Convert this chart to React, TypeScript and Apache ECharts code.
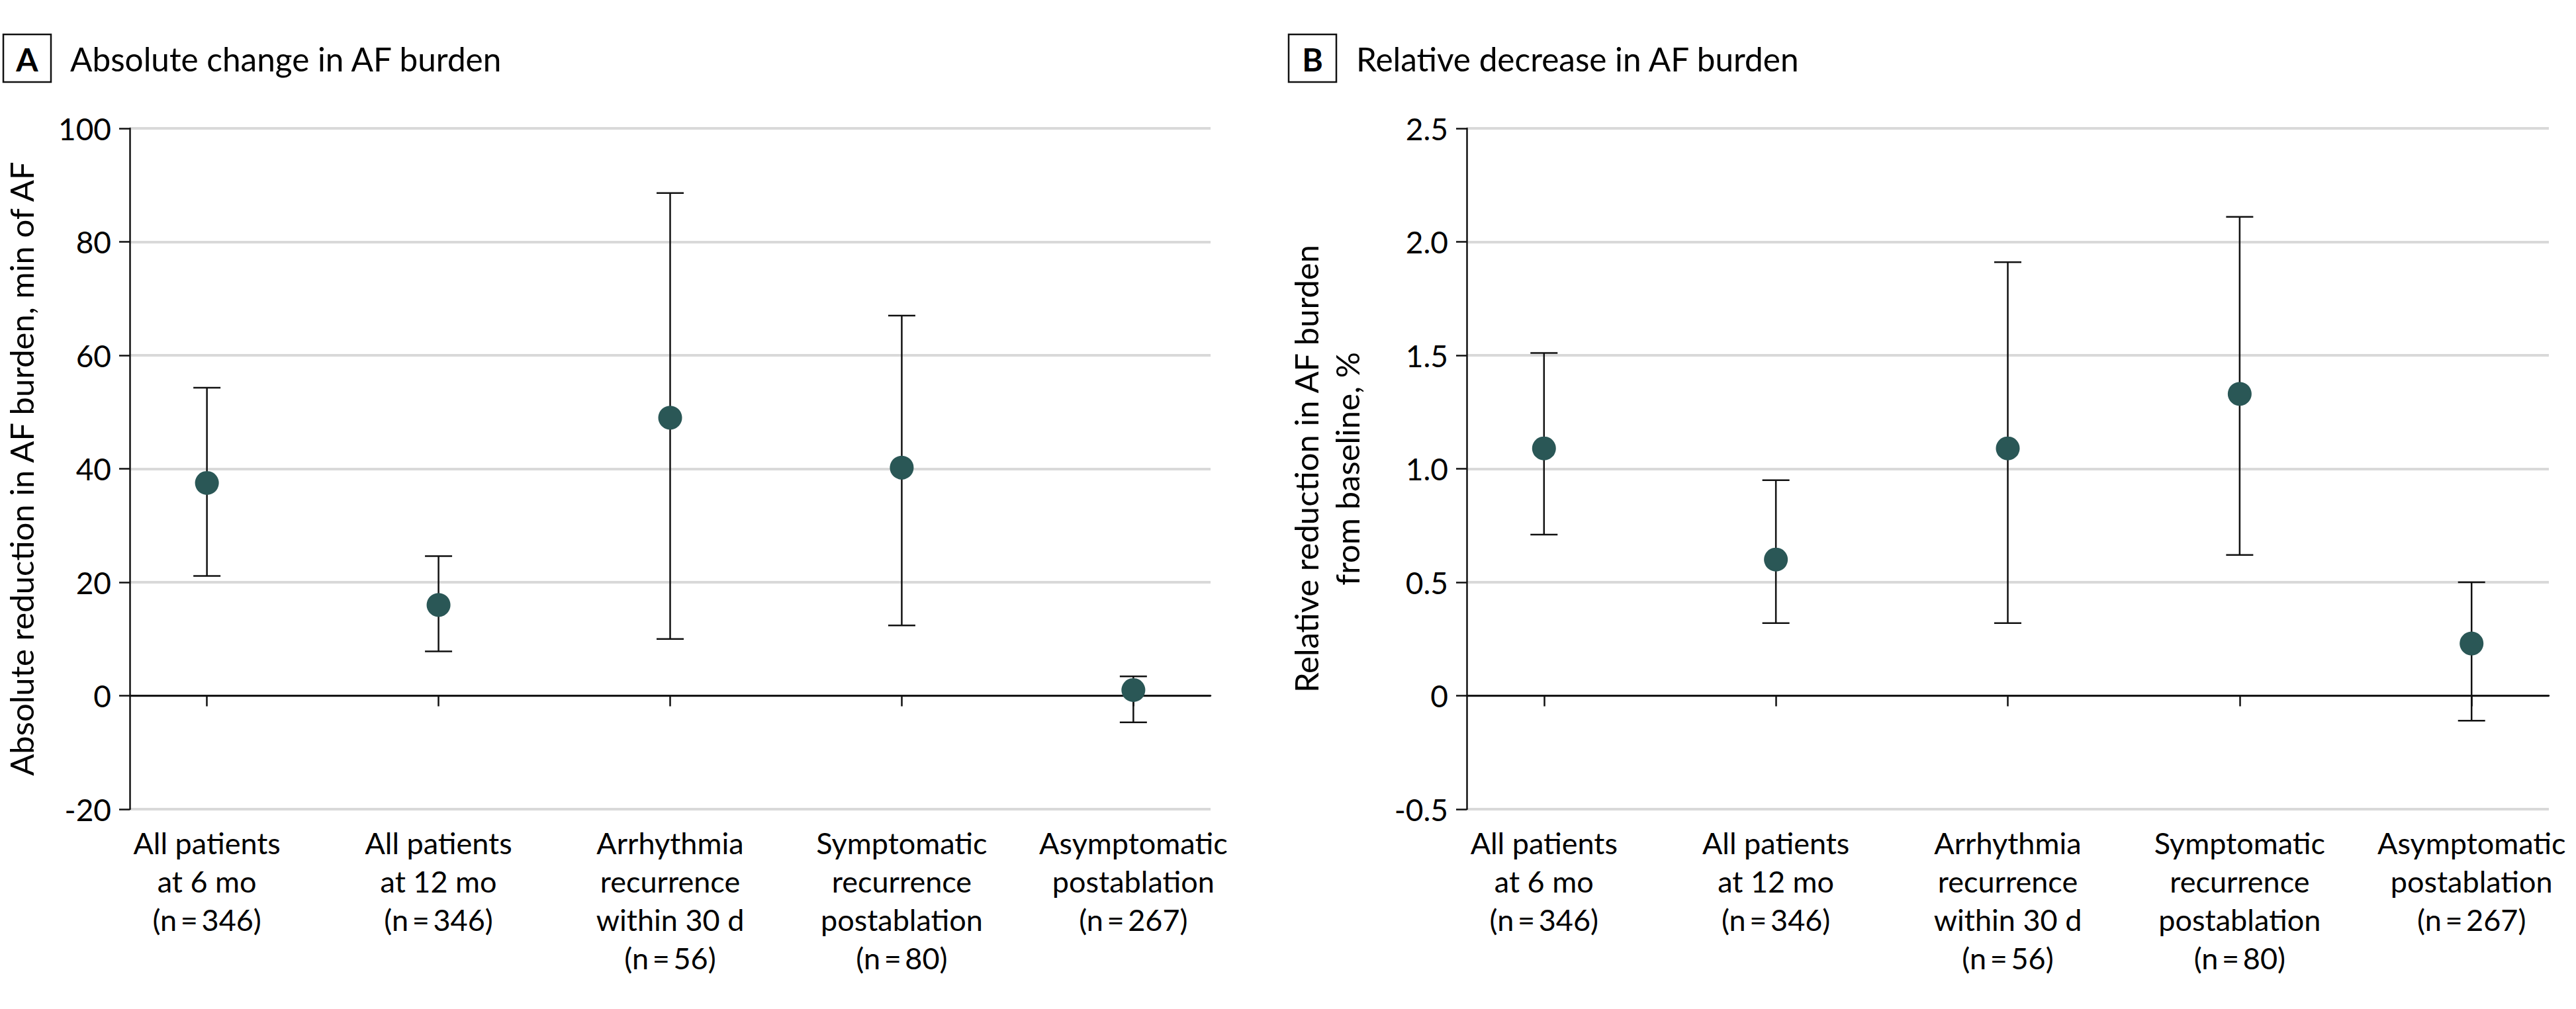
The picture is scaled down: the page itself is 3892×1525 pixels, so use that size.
import React, { useEffect, useRef } from "react";
import * as echarts from "echarts";

const categories = [
  "All patients\nat 6 mo\n(n\u2009=\u2009346)",
  "All patients\nat 12 mo\n(n\u2009=\u2009346)",
  "Arrhythmia\nrecurrence\nwithin 30 d\n(n\u2009=\u200956)",
  "Symptomatic\nrecurrence\npostablation\n(n\u2009=\u200980)",
  "Asymptomatic\npostablation\n(n\u2009=\u2009267)",
];
const catX = [1, 2, 3, 4, 5];

const absEst = [37.5, 16.0, 49.0, 40.2, 1.0];
const absLow = [21.1, 7.8, 10.0, 12.4, -4.7];
const absHigh = [54.3, 24.6, 88.6, 67.0, 3.4];

const relEst = [1.09, 0.6, 1.09, 1.33, 0.23];
const relLow = [0.71, 0.32, 0.32, 0.62, -0.11];
const relHigh = [1.51, 0.95, 1.91, 2.11, 0.5];

const titleA = "Absolute change in AF burden";
const titleB = "Relative decrease in AF burden";
const yNameA = "Absolute reduction in AF burden, min of AF";
const yNameB = "Relative reduction in AF burden\nfrom baseline, %";

const FONT = "Lato, 'Noto Sans', sans-serif";
const DOT = "#2a5756";
const INK = "#111111";

function xAxisCfg(gridIndex: number) {
  return {
    type: "value",
    gridIndex,
    min: 2 / 3,
    max: 16 / 3,
    splitLine: { show: false },
    axisLine: { show: true, lineStyle: { color: INK, width: 2.5 } },
    axisTick: {
      show: true,
      customValues: catX,
      length: 16,
      lineStyle: { color: INK, width: 2.5 },
    },
    axisLabel: {
      customValues: catX,
      formatter: (v: number) => categories[Math.round(v) - 1] ?? "",
      fontFamily: FONT,
      fontSize: 45,
      lineHeight: 58,
      color: "#000",
      margin: 22,
    },
  };
}

function yAxisCfg(gridIndex: number, min: number, max: number, interval: number, name: string, nameGap: number, fmt: (v: number) => string) {
  return {
    type: "value",
    gridIndex,
    min,
    max,
    interval,
    name,
    nameLocation: "middle",
    nameRotate: 90,
    nameGap,
    nameTextStyle: { fontFamily: FONT, fontSize: 49, color: "#000", lineHeight: 62 },
    axisLine: { show: true, lineStyle: { color: INK, width: 2.5 } },
    axisTick: { show: true, length: 16, lineStyle: { color: INK, width: 2.5 } },
    axisLabel: { fontFamily: FONT, fontSize: 46, color: "#000", margin: 28, formatter: fmt },
    splitLine: { show: true, lineStyle: { color: "#d9d9d9", width: 4 } },
  };
}

function errorSeries(idx: number, low: number[], high: number[]) {
  return {
    type: "custom",
    xAxisIndex: idx,
    yAxisIndex: idx,
    z: 2,
    silent: true,
    data: catX.map((x, i) => [x, low[i], high[i]]),
    encode: { x: 0, y: [1, 2] },
    renderItem: (params: any, api: any) => {
      const x = api.value(0);
      const pLo = api.coord([x, api.value(1)]);
      const pHi = api.coord([x, api.value(2)]);
      const hw = 20.5;
      const style = { stroke: INK, lineWidth: 2.5 };
      return {
        type: "group",
        children: [
          { type: "line", shape: { x1: pLo[0], y1: pLo[1], x2: pHi[0], y2: pHi[1] }, style },
          { type: "line", shape: { x1: pLo[0] - hw, y1: pLo[1], x2: pLo[0] + hw, y2: pLo[1] }, style },
          { type: "line", shape: { x1: pHi[0] - hw, y1: pHi[1], x2: pHi[0] + hw, y2: pHi[1] }, style },
        ],
      };
    },
    markLine: {
      silent: true,
      symbol: "none",
      label: { show: false },
      lineStyle: { color: INK, width: 2.5, type: "solid" },
      data: [{ yAxis: 0 }],
    },
  };
}

function dotSeries(idx: number, est: number[]) {
  return {
    type: "scatter",
    xAxisIndex: idx,
    yAxisIndex: idx,
    z: 5,
    symbol: "circle",
    symbolSize: 36,
    itemStyle: { color: DOT, opacity: 1 },
    data: catX.map((x, i) => [x, est[i]]),
  };
}

function panelTitle(letter: string, text: string, bx: number, tx: number) {
  return [
    {
      type: "rect",
      shape: { x: bx, y: 52, width: 72, height: 72 },
      style: { fill: "none", stroke: INK, lineWidth: 2.5 },
    },
    {
      type: "text",
      x: bx + 36,
      y: 89,
      style: {
        text: letter,
        fontFamily: FONT,
        fontWeight: "bold",
        fontSize: 48,
        fill: "#000",
        align: "center",
        verticalAlign: "middle",
      },
    },
    {
      type: "text",
      x: tx,
      y: 89,
      style: {
        text,
        fontFamily: FONT,
        fontSize: 49.5,
        fill: "#000",
        align: "left",
        verticalAlign: "middle",
      },
    },
  ];
}

export default function App() {
  const ref = useRef<HTMLDivElement>(null);
  useEffect(() => {
    if (!ref.current) return;
    const chart = echarts.init(ref.current, undefined, { renderer: "svg" });
    chart.setOption({
      animation: false,
      backgroundColor: "#ffffff",
      textStyle: { fontFamily: FONT },
      grid: [
        { left: 195, right: 3892 - 1829, top: 194, bottom: 1525 - 1223 },
        { left: 2216, right: 3892 - 3851, top: 194, bottom: 1525 - 1223 },
      ],
      xAxis: [xAxisCfg(0), xAxisCfg(1)],
      yAxis: [
        yAxisCfg(0, -20, 100, 20, yNameA, 133, (v: number) => String(v)),
        yAxisCfg(1, -0.5, 2.5, 0.5, yNameB, 150, (v: number) => (v === 0 ? "0" : v.toFixed(1))),
      ],
      series: [
        errorSeries(0, absLow, absHigh),
        dotSeries(0, absEst),
        errorSeries(1, relLow, relHigh),
        dotSeries(1, relEst),
      ],
      graphic: [...panelTitle("A", titleA, 5, 106), ...panelTitle("B", titleB, 1947, 2049)],
    });
    return () => chart.dispose();
  }, []);
  return (
    <div
      ref={ref}
      style={{ position: "fixed", left: 0, top: 0, width: 3892, height: 1525, background: "#fff" }}
    />
  );
}
